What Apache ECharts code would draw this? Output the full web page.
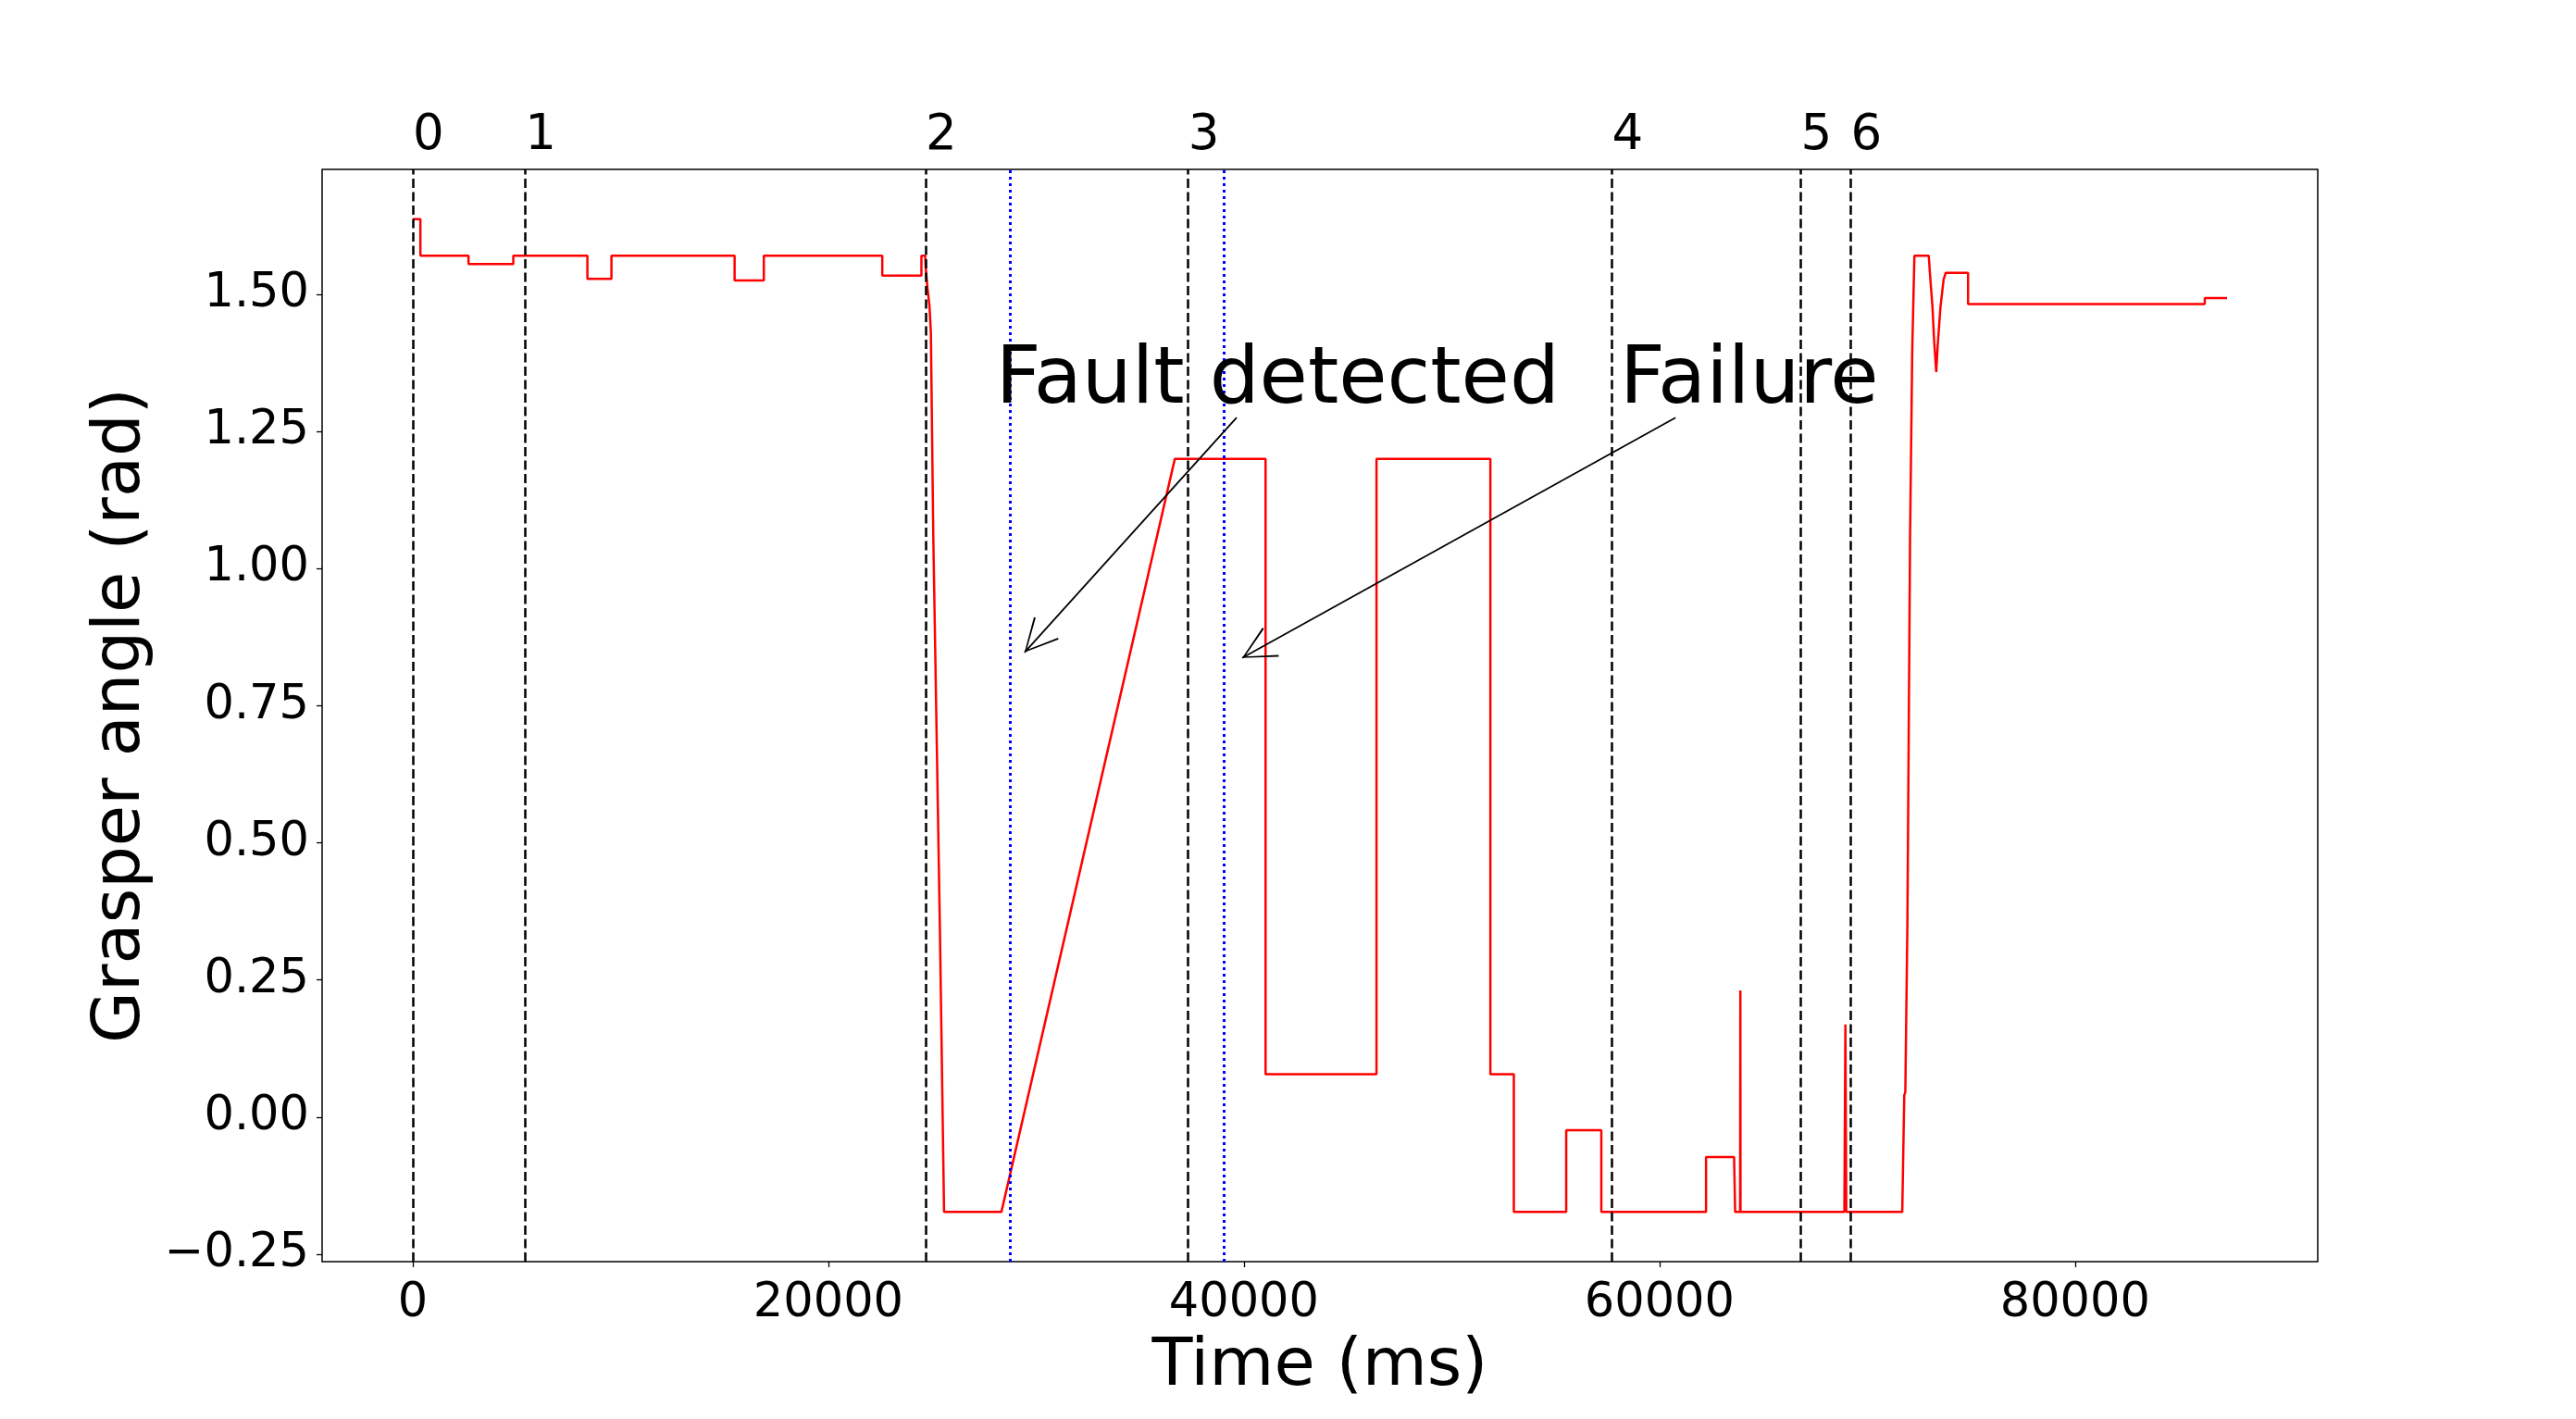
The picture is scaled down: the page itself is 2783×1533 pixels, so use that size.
<!DOCTYPE html>
<html>
<head>
<meta charset="utf-8">
<title>Grasper angle</title>
<script src="https://cdn.jsdelivr.net/npm/echarts@6/dist/echarts.min.js"></script>
<style>
  html, body { margin: 0; padding: 0; background: #fff; }
  #chart { width: 2783px; height: 1533px; }
</style>
</head>
<body>
<div id="chart"></div>
<script type="text/javascript">
// grasper angle trace (ms, rad)
var timeMs = [0, 365, 365, 2680, 2680, 4837, 4837, 8402, 8402, 9560, 9560, 15487, 15487, 16894, 16894,
  22595, 22595, 24478, 24478, 24660, 24680, 24773, 24866, 24933, 25049, 25364, 25568, 28327, 36675,
  41040, 41040, 46380, 46380, 51860, 51860, 52990, 52990, 55510, 55510, 57200, 57200, 62240, 62240,
  63590, 63640, 63880, 63891, 63900, 68898, 68947, 68990, 71683, 71780, 71830, 71931, 72060, 72164,
  72268, 72959, 73010, 73139, 73214, 73319, 73393, 73521, 73673, 73776, 74851, 74851, 86242, 86242, 87314];
var angleRad = [1.637, 1.637, 1.570, 1.570, 1.555, 1.555, 1.570, 1.570, 1.528, 1.528, 1.570, 1.570, 1.525, 1.525, 1.570,
  1.570, 1.534, 1.534, 1.570, 1.570, 1.550, 1.510, 1.479, 1.430, 1.060, 0.352, -0.173, -0.173, 1.200,
  1.200, 0.078, 0.078, 1.200, 1.200, 0.078, 0.078, -0.173, -0.173, -0.024, -0.024, -0.173, -0.173, -0.073,
  -0.073, -0.173, -0.173, 0.231, -0.173, -0.173, 0.169, -0.173, -0.173, 0.040, 0.045, 0.352, 1.060, 1.398,
  1.570, 1.570, 1.541, 1.476, 1.417, 1.358, 1.409, 1.476, 1.527, 1.539, 1.539, 1.482, 1.482, 1.493, 1.493];

// phase boundaries (black dashed) and their labels
var phaseTimes = [0, 5398, 24680, 37320, 57710, 66802, 69204];
var phaseLabels = ['0', '1', '2', '3', '4', '5', '6'];
// blue dotted markers
var markerTimes = [28735, 39030];

// annotations
var noteTexts = ['Fault detected', 'Failure'];
var noteX = [28050, 58090];
var noteY = [1.34, 1.34];
var arrowFromX = [39648, 60770];
var arrowFromY = [1.275, 1.275];
var arrowToX = [29439, 39915];
var arrowToY = [0.847, 0.837];

var xTicks = [0, 20000, 40000, 60000, 80000];
var yTicks = [-0.25, 0, 0.25, 0.5, 0.75, 1.0, 1.25, 1.5];

var FONT = 'DejaVu Sans';
var chevron = 'path://M17,-1.1 L34.9,33.55 L33.1,34.45 L17,2.2 L0.9,34.45 L-0.9,33.55 Z';

var trace = [];
for (var i = 0; i < timeMs.length; i++) trace.push([timeMs[i], angleRad[i]]);

var phaseLines = [];
for (var i = 0; i < phaseTimes.length; i++) phaseLines.push({xAxis: phaseTimes[i], name: phaseLabels[i]});

var markerLines = [];
for (var i = 0; i < markerTimes.length; i++) markerLines.push({xAxis: markerTimes[i]});

var arrows = [];
for (var i = 0; i < arrowFromX.length; i++) {
  arrows.push([
    {coord: [arrowFromX[i], arrowFromY[i]], symbol: 'none'},
    {coord: [arrowToX[i], arrowToY[i]], symbol: chevron, symbolSize: [36, 36], symbolOffset: [0, 18]}
  ]);
}

var notes = [];
for (var i = 0; i < noteTexts.length; i++) notes.push({name: noteTexts[i], value: [noteX[i], noteY[i]]});

var myChart = echarts.init(document.getElementById('chart'));
var option = {
  animation: false,
  backgroundColor: '#fff',
  textStyle: {fontFamily: FONT, color: '#000'},
  grid: {
    left: 348, right: 279, top: 183, bottom: 170,
    show: true, borderColor: '#000', borderWidth: 1.5, backgroundColor: 'transparent'
  },
  xAxis: {
    type: 'value',
    min: -4365, max: 91680,
    name: 'Time (ms)',
    nameLocation: 'middle',
    nameGap: 78,
    nameTextStyle: {fontSize: 72, color: '#000', fontFamily: FONT},
    axisLine: {show: false, onZero: false},
    axisTick: {show: true, length: 6, lineStyle: {color: '#000', width: 1.3}, customValues: xTicks},
    axisLabel: {
      fontSize: 51, color: '#000', fontFamily: FONT, margin: 8, padding: [12, 0, 0, 0],
      customValues: xTicks,
      formatter: function (v) { return String(v); }
    },
    splitLine: {show: false}
  },
  yAxis: {
    type: 'value',
    min: -0.2635, max: 1.7275,
    name: 'Grasper angle (rad)',
    nameLocation: 'middle',
    nameGap: 180,
    nameRotate: 90,
    nameTextStyle: {fontSize: 72, color: '#000', fontFamily: FONT},
    axisLine: {show: false, onZero: false},
    axisTick: {show: true, length: 6, lineStyle: {color: '#000', width: 1.3}, customValues: yTicks},
    axisLabel: {
      fontSize: 51, color: '#000', fontFamily: FONT, margin: 14, padding: [28, 0, 0, 0],
      customValues: yTicks,
      formatter: function (v) { return (v < 0 ? '\u2212' : '') + Math.abs(v).toFixed(2); }
    },
    splitLine: {show: false}
  },
  series: [
    {
      name: 'angle',
      type: 'line',
      data: trace,
      showSymbol: false,
      symbol: 'none',
      color: '#ff0000',
      lineStyle: {color: '#ff0000', width: 2.5},
      z: 3
    },
    {
      name: 'phases',
      type: 'line',
      data: [],
      z: 4,
      markLine: {
        silent: true,
        symbol: 'none',
        lineStyle: {color: '#000', width: 2.5, type: [10, 4.5]},
        label: {
          show: true, position: 'end', formatter: '{b}', align: 'left', distance: 9,
          fontSize: 53, color: '#000', fontFamily: FONT
        },
        data: phaseLines
      }
    },
    {
      name: 'markers',
      type: 'line',
      data: [],
      z: 4,
      markLine: {
        silent: true,
        symbol: 'none',
        lineStyle: {color: '#0000ff', width: 3, type: [3, 4]},
        label: {show: false},
        data: markerLines
      }
    },
    {
      name: 'arrows',
      type: 'line',
      data: [],
      color: '#000',
      z: 5,
      markLine: {
        silent: true,
        itemStyle: {color: '#000'},
        lineStyle: {color: '#000', width: 1.8, type: 'solid'},
        label: {show: false},
        data: arrows
      }
    },
    {
      name: 'notes',
      type: 'scatter',
      data: notes,
      symbolSize: 0,
      silent: true,
      z: 6,
      itemStyle: {opacity: 1},
      label: {
        show: true, position: 'right', distance: 0, formatter: '{b}', opacity: 1,
        fontSize: 85, color: '#000', fontFamily: FONT
      }
    }
  ]
};
myChart.setOption(option);
</script>
</body>
</html>
